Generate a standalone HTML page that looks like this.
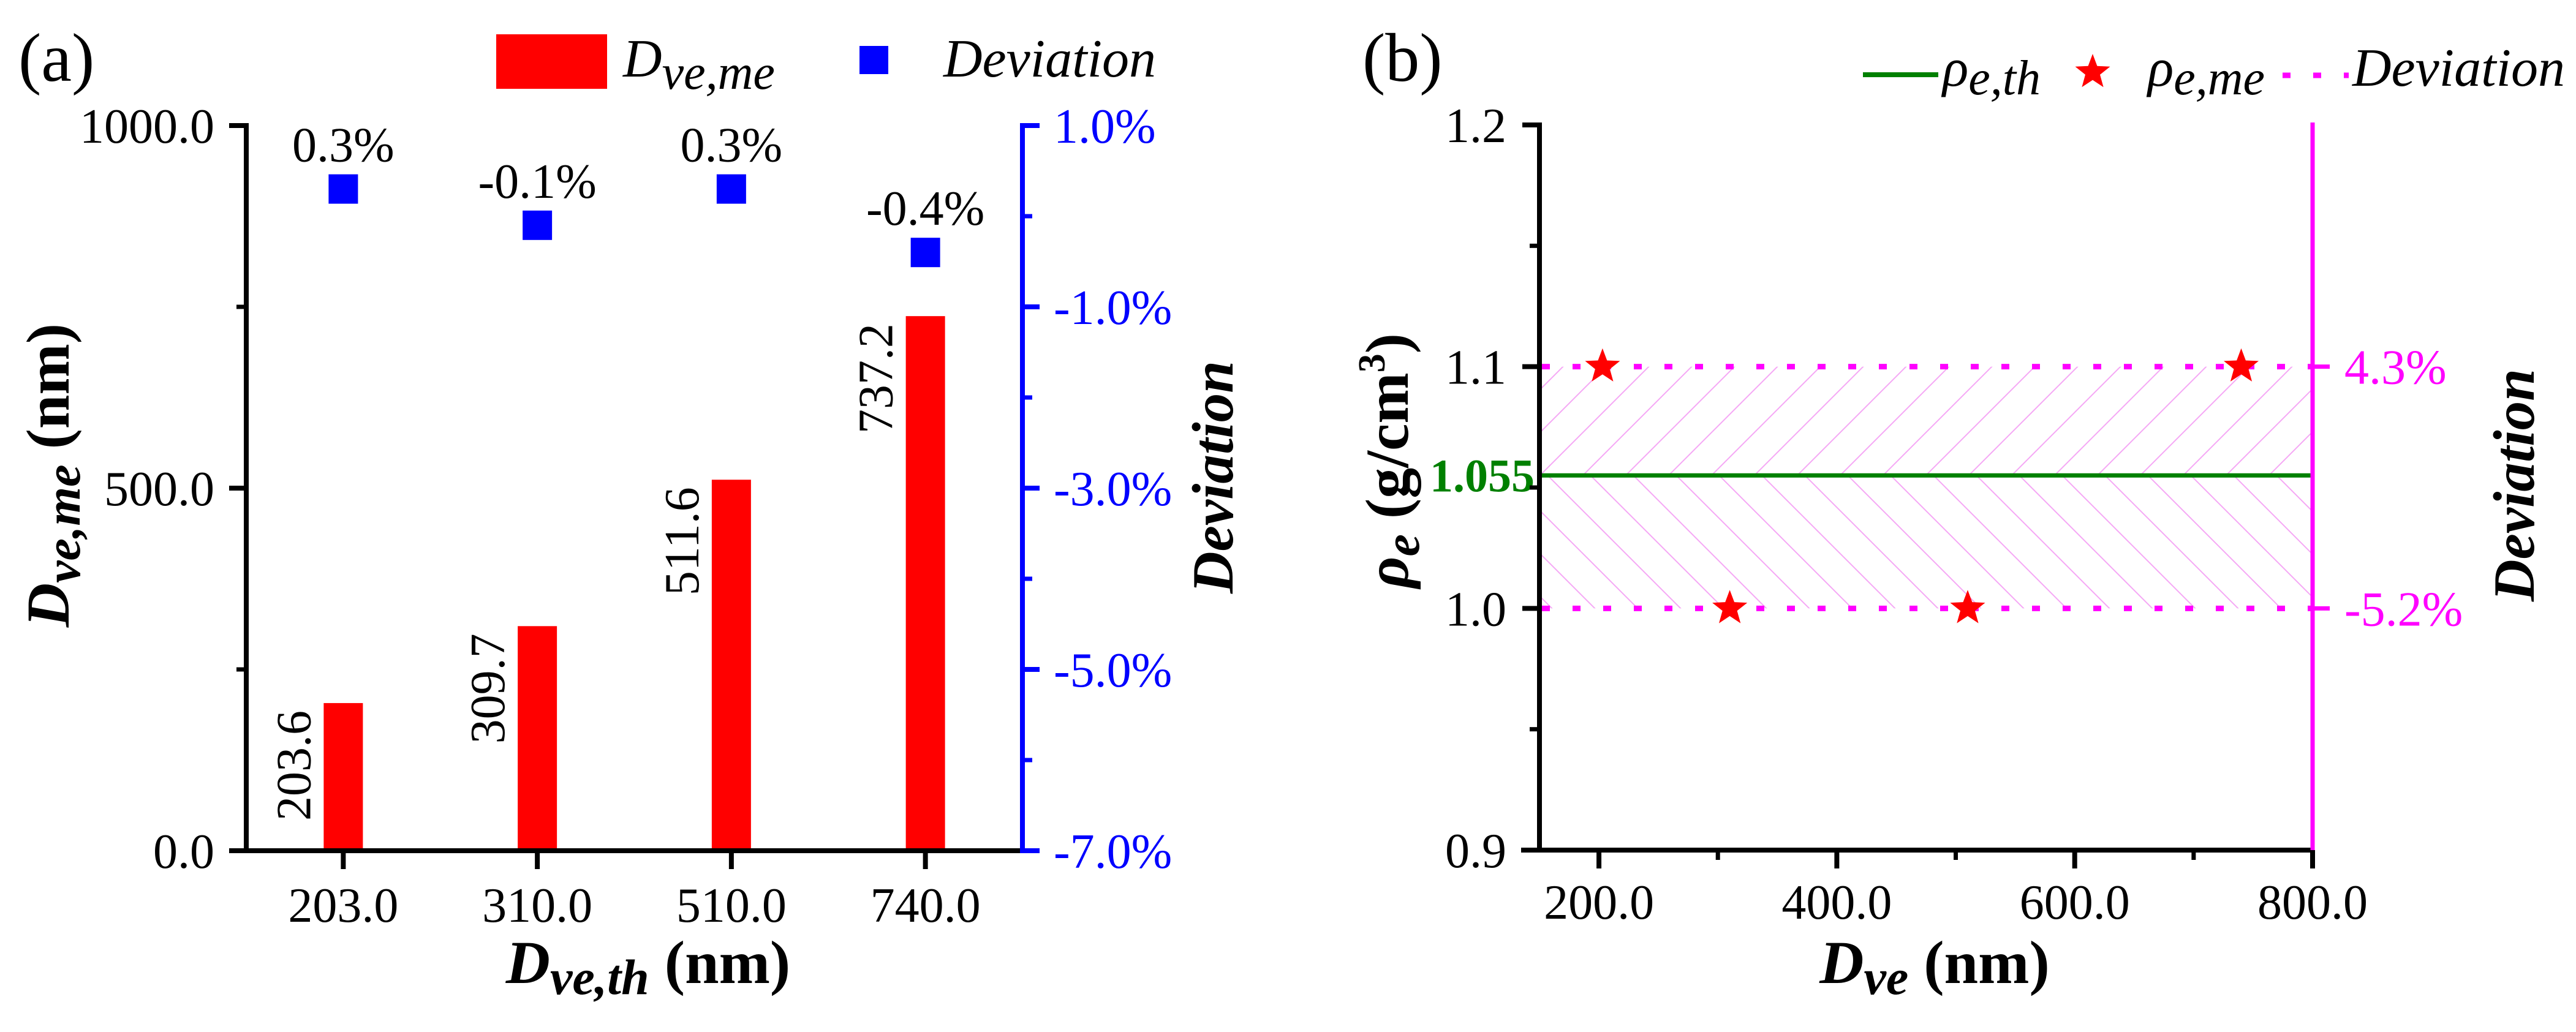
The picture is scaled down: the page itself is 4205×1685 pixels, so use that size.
<!DOCTYPE html>
<html><head><meta charset="utf-8"><style>
html,body{margin:0;padding:0;background:#fff;}
svg, svg text, svg tspan{font-family:"Liberation Serif","DejaVu Serif","Times New Roman",serif;}
</style></head><body>
<svg id="fig" width="4205" height="1680" viewBox="0 0 4205 1680" xmlns="http://www.w3.org/2000/svg" font-family="Liberation Serif, DejaVu Serif, serif">
<defs>
<pattern id="hatchUp" patternUnits="userSpaceOnUse" width="70" height="70">
<line x1="0" y1="70" x2="70" y2="0" stroke="#f5a8f5" stroke-width="2"/>
<line x1="-35" y1="35" x2="35" y2="-35" stroke="#f5a8f5" stroke-width="2"/>
<line x1="35" y1="105" x2="105" y2="35" stroke="#f5a8f5" stroke-width="2"/>
</pattern>
<pattern id="hatchDown" patternUnits="userSpaceOnUse" width="70" height="70">
<line x1="0" y1="0" x2="70" y2="70" stroke="#f5a8f5" stroke-width="2"/>
<line x1="-35" y1="35" x2="35" y2="105" stroke="#f5a8f5" stroke-width="2"/>
<line x1="35" y1="-35" x2="105" y2="35" stroke="#f5a8f5" stroke-width="2"/>
</pattern>
</defs>
<g id="panelA"></g>
<g id="panelB"></g>
</svg>
<script>
// Panel (a) data
const catLabels = ["203.0", "310.0", "510.0", "740.0"];
const barValues = [203.6, 309.7, 511.6, 737.2];
const devValues = [0.3, -0.1, 0.3, -0.4];
const devLabels = ["0.3%", "-0.1%", "0.3%", "-0.4%"];
const leftTicksA = [0, 500, 1000];
const rightTicksA = [1, -1, -3, -5, -7];
// Panel (b) data
const xTicksB = [200, 400, 600, 800];
const yTicksB = [0.9, 1.0, 1.1, 1.2];
const starX = [203, 310, 510, 740];
const starY = [1.1, 1.0, 1.0, 1.1];
const rhoTh = 1.055;
const devBandHigh = 1.1;
const devBandLow = 1.0;
const devBandLabels = ["4.3%", "-5.2%"];

const NS = "http://www.w3.org/2000/svg";
function mk(parent, tag, attrs, text) {
  const e = document.createElementNS(NS, tag);
  for (const k in attrs) e.setAttribute(k, attrs[k]);
  if (text !== undefined) e.textContent = text;
  parent.appendChild(e);
  return e;
}
function starPath(cx, cy, R) {
  const r = R * 0.42; let d = "";
  for (let i = 0; i < 10; i++) {
    const a = -Math.PI / 2 + i * Math.PI / 5;
    const rr = i % 2 ? r : R;
    d += (i ? "L" : "M") + (cx + rr * Math.cos(a)).toFixed(1) + "," + (cy + rr * Math.sin(a)).toFixed(1);
  }
  return d + "Z";
}

// ---------- Panel A ----------
const A = document.getElementById("panelA");
const aL = 402, aR = 1669, aT = 205, aB = 1389;
const yA = v => aB - (v / 1000) * (aB - aT);
const yDev = v => aT + (1 - v) / 8 * (aB - aT);
const band = (aR - aL) / catLabels.length;
const xA = i => aL + band * (i + 0.5);

barValues.forEach((v, i) => {
  const r = mk(A, "rect", {x: xA(i) - 32, y: yA(v), width: 64, height: aB - yA(v), fill: "#ff0000"});
  
  
  const t = mk(A, "text", {x: xA(i) - 80, y: yA(v) + 12, "font-size": 80, "text-anchor": "end", "dominant-baseline": "central", transform: `rotate(-90 ${xA(i) - 80} ${yA(v) + 12})`}, v.toFixed(1));
  
  
});
devValues.forEach((v, i) => {
  const s = mk(A, "rect", {x: xA(i) - 24, y: yDev(v) - 24, width: 48, height: 48, fill: "#0000ff"});
  
  
  const t = mk(A, "text", {x: xA(i), y: yDev(v) - 45, "font-size": 80, "text-anchor": "middle"}, devLabels[i]);
  
  
});
mk(A, "line", {x1: aL, y1: aT - 4, x2: aL, y2: aB + 4, stroke: "#000", "stroke-width": 8});
mk(A, "line", {x1: aL - 4, y1: aB, x2: aR, y2: aB, stroke: "#000", "stroke-width": 8});
mk(A, "line", {x1: aR, y1: aT - 4, x2: aR, y2: aB + 4, stroke: "#0000ff", "stroke-width": 8});
leftTicksA.forEach(v => {
  mk(A, "line", {x1: aL - 28, y1: yA(v), x2: aL, y2: yA(v), stroke: "#000", "stroke-width": 8});
  const t = mk(A, "text", {x: 350, y: yA(v) + 28, "font-size": 80, "text-anchor": "end"}, v.toFixed(1));
  
  
});
[250, 750].forEach(v => mk(A, "line", {x1: aL - 16, y1: yA(v), x2: aL, y2: yA(v), stroke: "#000", "stroke-width": 7}));
rightTicksA.forEach(v => {
  mk(A, "line", {x1: aR, y1: yDev(v), x2: aR + 28, y2: yDev(v), stroke: "#0000ff", "stroke-width": 8});
  const t = mk(A, "text", {x: 1720, y: yDev(v) + 28, "font-size": 80, fill: "#0000ff"}, v.toFixed(1) + "%");
  
  
});
[0, -2, -4, -6].forEach(v => mk(A, "line", {x1: aR, y1: yDev(v), x2: aR + 16, y2: yDev(v), stroke: "#0000ff", "stroke-width": 7}));
catLabels.forEach((c, i) => {
  mk(A, "line", {x1: xA(i), y1: aB, x2: xA(i), y2: aB + 30, stroke: "#000", "stroke-width": 8});
  const t = mk(A, "text", {x: xA(i), y: 1505, "font-size": 80, "text-anchor": "middle"}, c);
  
  
});
</script>
<script>
(function(){
const A = document.getElementById("panelA");
A.insertAdjacentHTML("beforeend", `
<text x="30" y="132" font-size="112">(a)</text>
<text x="1058" y="1605" font-size="100" font-weight="bold" text-anchor="middle"><tspan font-style="italic">D</tspan><tspan font-style="italic" font-size="82" dy="18">ve,th</tspan><tspan dy="-18"> (nm)</tspan></text>
<text x="0" y="0" font-size="100" font-weight="bold" text-anchor="middle" transform="translate(112 776) rotate(-90)"><tspan font-style="italic">D</tspan><tspan font-style="italic" font-size="82" dy="18">ve,me</tspan><tspan dy="-18"> (nm)</tspan></text>
<text x="0" y="0" font-size="95" font-weight="bold" font-style="italic" text-anchor="middle" transform="translate(2012 779) rotate(-90)">Deviation</text>
<g>
<rect x="810" y="56" width="181" height="89" fill="#ff0000"/>
<text x="1017" y="125" font-size="88" font-style="italic">D<tspan font-size="80" dy="20">ve,me</tspan></text>
<rect x="1403" y="75" width="47" height="46" fill="#0000ff"/>
<text x="1540" y="125" font-size="88" font-style="italic">Deviation</text>
</g>`);
})();
</script>
<script>
(function(){
const B = document.getElementById("panelB");
const bL = 2513, bR = 3775, bT = 204, bB = 1388;
const xB = v => bL + (v - 150) / 650 * (bR - bL);
const yB = v => bB - (v - 0.9) / 0.3 * (bB - bT);
mk(B, "rect", {x: bL, y: yB(devBandHigh), width: bR - bL, height: yB(rhoTh) - yB(devBandHigh), fill: "url(#hatchUp)"});
mk(B, "rect", {x: bL, y: yB(rhoTh), width: bR - bL, height: yB(devBandLow) - yB(rhoTh), fill: "url(#hatchDown)"});
[devBandHigh, devBandLow].forEach((v, i) => {
  const l = mk(B, "line", {x1: bL + 4, y1: yB(v), x2: bR, y2: yB(v), stroke: "#ff00ff", "stroke-width": 9, "stroke-dasharray": "13 37"});
  
  
  mk(B, "line", {x1: bR, y1: yB(v), x2: bR + 28, y2: yB(v), stroke: "#ff00ff", "stroke-width": 7});
  const t = mk(B, "text", {x: 3827, y: yB(v) + 28, "font-size": 80, fill: "#ff00ff"}, devBandLabels[i]);
  
  
});
const g = mk(B, "line", {x1: bL, y1: yB(rhoTh), x2: bR, y2: yB(rhoTh), stroke: "#008000", "stroke-width": 7});


const gl = mk(B, "text", {x: 2505, y: yB(rhoTh) + 26, "font-size": 76, "font-weight": "bold", fill: "#008000", "text-anchor": "end"}, rhoTh.toFixed(3));


starX.forEach((x, i) => {
  const s = mk(B, "path", {d: starPath(xB(x), yB(starY[i]), 30), fill: "#ff0000"});
  
  
});
mk(B, "line", {x1: bL, y1: bT - 4, x2: bL, y2: bB + 4, stroke: "#000", "stroke-width": 8});
mk(B, "line", {x1: bL - 30, y1: bB, x2: bR, y2: bB, stroke: "#000", "stroke-width": 8});
mk(B, "line", {x1: bR, y1: bT - 4, x2: bR, y2: bB + 4, stroke: "#ff00ff", "stroke-width": 7});
yTicksB.forEach(v => {
  mk(B, "line", {x1: bL - 28, y1: yB(v), x2: bL, y2: yB(v), stroke: "#000", "stroke-width": 8});
  const t = mk(B, "text", {x: 2459, y: yB(v) + 28, "font-size": 80, "text-anchor": "end"}, v.toFixed(1));
  
  
});
[0.95, 1.05, 1.15].forEach(v => mk(B, "line", {x1: bL - 16, y1: yB(v), x2: bL, y2: yB(v), stroke: "#000", "stroke-width": 7}));
xTicksB.forEach(v => {
  mk(B, "line", {x1: xB(v), y1: bB, x2: xB(v), y2: bB + 30, stroke: "#000", "stroke-width": 8});
  const t = mk(B, "text", {x: xB(v), y: 1500, "font-size": 80, "text-anchor": "middle"}, v.toFixed(1));
  
  
});
[300, 500, 700].forEach(v => mk(B, "line", {x1: xB(v), y1: bB, x2: xB(v), y2: bB + 16, stroke: "#000", "stroke-width": 7}));
B.insertAdjacentHTML("beforeend", `
<text x="2224" y="132" font-size="112">(b)</text>
<text x="3158" y="1605" font-size="100" font-weight="bold" text-anchor="middle"><tspan font-style="italic">D</tspan><tspan font-style="italic" font-size="82" dy="18">ve</tspan><tspan dy="-18"> (nm)</tspan></text>
<text x="0" y="0" font-size="100" font-weight="bold" text-anchor="middle" transform="translate(2298 752) rotate(-90)"><tspan font-style="italic">ρ</tspan><tspan font-style="italic" font-size="82" dy="18">e</tspan><tspan dy="-18"> (g/cm</tspan><tspan font-size="62" dy="-38">3</tspan><tspan dy="38">)</tspan></text>
<text x="0" y="0" font-size="95" font-weight="bold" font-style="italic" text-anchor="middle" transform="translate(4136 792) rotate(-90)">Deviation</text>
<g>
<line x1="3041" y1="122" x2="3164" y2="122" stroke="#008000" stroke-width="8"/>
<text x="3171" y="140" font-size="88" font-style="italic">ρ<tspan font-size="80" dy="14">e,th</tspan></text>
<path d="${starPath(3416, 118, 30)}" fill="#ff0000"/>
<text x="3506" y="140" font-size="88" font-style="italic">ρ<tspan font-size="80" dy="14">e,me</tspan></text>
<line x1="3726" y1="123" x2="3834" y2="123" stroke="#ff00ff" stroke-width="9" stroke-dasharray="13 37"/>
<text x="3840" y="140" font-size="88" font-style="italic">Deviation</text>
</g>`);
})();
</script>
</body></html>
